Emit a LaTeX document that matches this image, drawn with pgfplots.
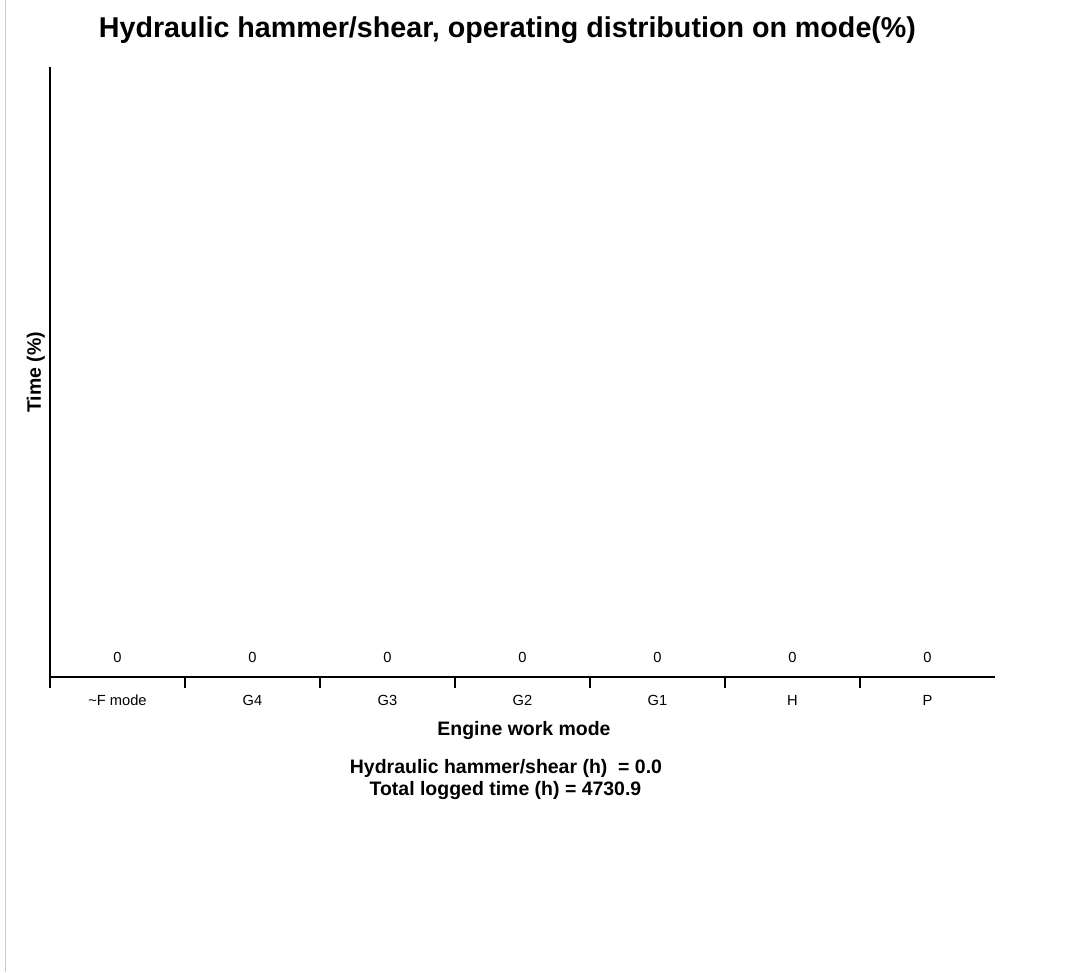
\documentclass[border=0pt]{standalone}
\usepackage{pgfplots}
\pgfplotsset{compat=1.18}
\usepackage{fontspec}
\setmainfont{Liberation Sans}
\begin{document}
\begin{tikzpicture}
\path[use as bounding box] (0,0) rectangle (808.5pt,729pt);
\fill[white] (0,0) rectangle (808.5pt,729pt);
\draw[black!20, line width=0.75pt] (4.1pt,0) -- (4.1pt,729pt);
\begin{axis}[
  at={(37.5pt,221.25pt)}, anchor=south west,
  scale only axis, width=708.75pt, height=457.5pt,
  xmin=-0.5, xmax=6.5, ymin=0, ymax=100,
  axis x line=bottom, axis y line=left,
  axis line style={-, line width=1.5pt, black},
  ytick=\empty,
  xtick={-0.5,0.5,1.5,2.5,3.5,4.5,5.5},
  xticklabels={},
  tick align=outside,
  major tick length=8.5pt,
  xtick style={draw=black, line width=0.9pt},
  extra x ticks={0,1,2,3,4,5,6},
  extra x tick labels={{\textasciitilde F mode},G4,G3,G2,G1,H,P},
  extra x tick style={major tick length=0pt, tick style={draw=none}},
  xticklabel style={anchor=base, yshift=-21pt, font=\fontsize{11}{13}\selectfont},
  ybar, bar width=40pt,
  nodes near coords,
  /pgf/number format/assume math mode=true,
  nodes near coords style={anchor=base, yshift=11pt, font=\fontsize{11}{13}\selectfont, black},
  clip=false,
]
\addplot[draw=none, fill=none] coordinates {(0,0) (1,0) (2,0) (3,0) (4,0) (5,0) (6,0)};
\end{axis}
\node[anchor=base, font=\fontsize{21.5}{25}\selectfont\bfseries] at (380.6pt,700.5pt) {Hydraulic hammer/shear, operating distribution on mode(\%)};
\node[anchor=base, rotate=90, font=\fontsize{14.6}{17}\selectfont\bfseries] at (30.75pt,449.6pt) {Time (\%)};
\node[anchor=base, font=\fontsize{14.6}{17}\selectfont\bfseries] at (393pt,177.75pt) {Engine work mode};
\node[anchor=base, font=\fontsize{14.6}{17}\selectfont\bfseries] at (379.5pt,149.25pt) {Hydraulic hammer/shear (h)~ = 0.0};
\node[anchor=base, font=\fontsize{14.6}{17}\selectfont\bfseries] at (379.1pt,132.75pt) {Total logged time (h) = 4730.9};
\end{tikzpicture}
\end{document}
